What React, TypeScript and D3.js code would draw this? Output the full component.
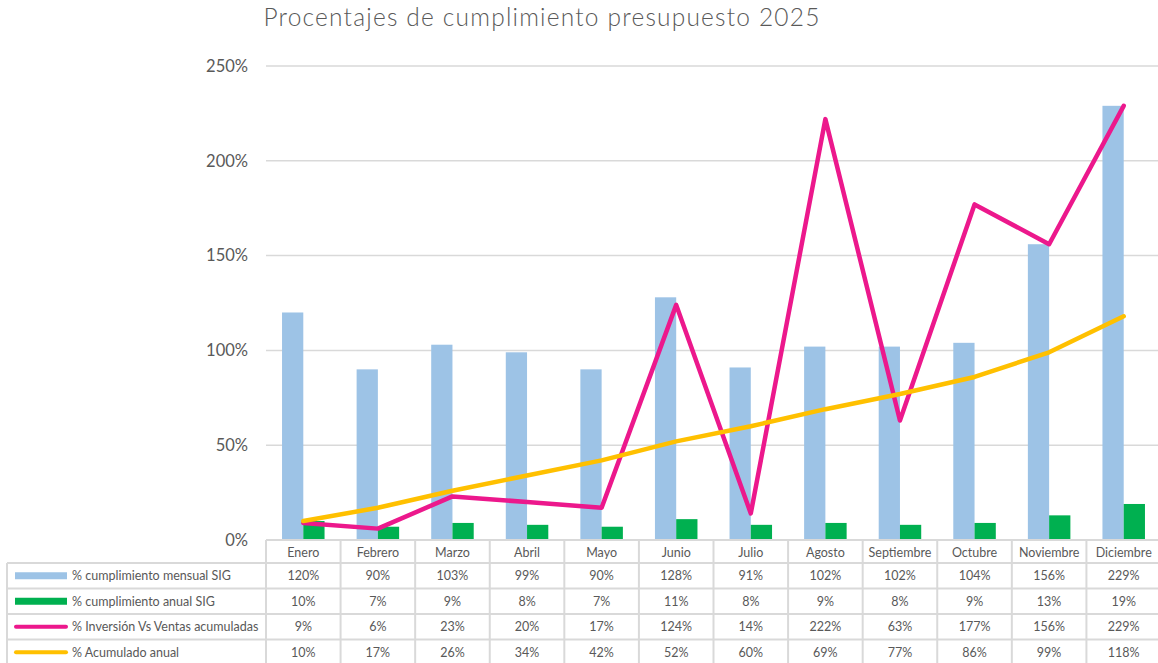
import React from 'react';
import * as d3 from 'd3';

const months = ['Enero', 'Febrero', 'Marzo', 'Abril', 'Mayo', 'Junio', 'Julio', 'Agosto', 'Septiembre', 'Octubre', 'Noviembre', 'Diciembre'];
const mensualSIG = [1.20, 0.90, 1.03, 0.99, 0.90, 1.28, 0.91, 1.02, 1.02, 1.04, 1.56, 2.29];
const anualSIG = [0.10, 0.07, 0.09, 0.08, 0.07, 0.11, 0.08, 0.09, 0.08, 0.09, 0.13, 0.19];
const inversionVentas = [0.09, 0.06, 0.23, 0.20, 0.17, 1.24, 0.14, 2.22, 0.63, 1.77, 1.56, 2.29];
const acumuladoAnual = [0.10, 0.17, 0.26, 0.34, 0.42, 0.52, 0.60, 0.69, 0.77, 0.86, 0.99, 1.18];
const yTicks = [0, 0.5, 1, 1.5, 2, 2.5];

const seriesRows = [
  { name: '% cumplimiento mensual SIG', values: mensualSIG, color: '#9dc3e6', kind: 'bar' },
  { name: '% cumplimiento anual SIG', values: anualSIG, color: '#00b050', kind: 'bar' },
  { name: '% Inversión Vs Ventas acumuladas', values: inversionVentas, color: '#ec188c', kind: 'line' },
  { name: '% Acumulado anual', values: acumuladoAnual, color: '#ffc000', kind: 'line' },
];

const W = 1158, H = 663;
const plotLeft = 266, plotRight = 1161, plotTop = 66, plotBottom = 540;
const tableLeft = 7;
const rowH = 25.5;
const headerBottom = 563;
const textColor = '#595959';
const gridColor = '#d9d9d9';
const font = 'Lato, "Open Sans", sans-serif';

export default function App() {
  const x = d3.scaleBand<string>().domain(months).range([plotLeft, plotRight]).padding(0);
  const y = d3.scaleLinear().domain([0, 2.5]).range([plotBottom, plotTop]);
  const bw = x.bandwidth() * 0.285;
  const cx = (m: string) => (x(m) as number) + x.bandwidth() / 2;
  const pct = d3.format('.0%');

  const line = d3.line<number>()
    .x((_, i) => cx(months[i]))
    .y(d => y(d));

  const rowTop = (i: number) => headerBottom + i * rowH;
  const tableBottom = rowTop(4);

  return (
    <svg width={W} height={H} style={{ position: 'absolute', left: 0, top: 0, background: '#fff' }} fontFamily={font}>
      <text x={542} y={26} textAnchor="middle" fontSize={24.5} fontWeight={300} letterSpacing={1.2} fill={textColor}>Procentajes de cumplimiento presupuesto 2025</text>

      {yTicks.map(t => (
        <g key={t}>
          {t > 0 && <line x1={plotLeft} x2={plotRight} y1={y(t)} y2={y(t)} stroke={gridColor} strokeWidth={1.5} />}
          <text x={248} y={y(t)} dy="0.35em" textAnchor="end" fontSize={16.5} fill={textColor}>{pct(t)}</text>
        </g>
      ))}

      {months.map((m, i) => (
        <g key={m}>
          <rect x={cx(m) - bw} y={y(mensualSIG[i])} width={bw} height={plotBottom - y(mensualSIG[i])} fill="#9dc3e6" />
          <rect x={cx(m)} y={y(anualSIG[i])} width={bw} height={plotBottom - y(anualSIG[i])} fill="#00b050" />
        </g>
      ))}

      <path d={line(inversionVentas) || ''} fill="none" stroke="#ec188c" strokeWidth={4.5} strokeLinejoin="round" strokeLinecap="round" />
      <path d={line(acumuladoAnual) || ''} fill="none" stroke="#ffc000" strokeWidth={4.5} strokeLinejoin="round" strokeLinecap="round" />

      {/* data table */}
      <g stroke={gridColor} strokeWidth={2}>
        <line x1={plotLeft} x2={plotRight} y1={plotBottom} y2={plotBottom} />
        {d3.range(4).map(i => (
          <line key={i} x1={tableLeft} x2={plotRight} y1={rowTop(i)} y2={rowTop(i)} />
        ))}
        <line x1={tableLeft} x2={plotRight} y1={tableBottom} y2={tableBottom} />
        <line x1={tableLeft} x2={tableLeft} y1={headerBottom} y2={tableBottom} />
        {months.map(m => (
          <line key={m} x1={x(m)} x2={x(m)} y1={plotBottom} y2={tableBottom} />
        ))}
      </g>

      {months.map(m => (
        <text key={m} x={cx(m)} y={(plotBottom + headerBottom) / 2 + 1} dy="0.35em" textAnchor="middle" fontSize={12.5} fill={textColor}>{m}</text>
      ))}

      {seriesRows.map((s, r) => {
        const cy = rowTop(r) + rowH / 2;
        return (
          <g key={s.name}>
            {s.kind === 'bar'
              ? <rect x={15} y={cy - 3.5} width={52} height={7} fill={s.color} />
              : <line x1={16} x2={66} y1={cy} y2={cy} stroke={s.color} strokeWidth={4} strokeLinecap="round" />}
            <text x={72} y={cy} dy="0.35em" fontSize={12.5} fill={textColor}>{s.name}</text>
            {s.values.map((v, i) => (
              <text key={i} x={cx(months[i])} y={cy} dy="0.35em" textAnchor="middle" fontSize={12.5} fill={textColor}>{pct(v)}</text>
            ))}
          </g>
        );
      })}
    </svg>
  );
}
